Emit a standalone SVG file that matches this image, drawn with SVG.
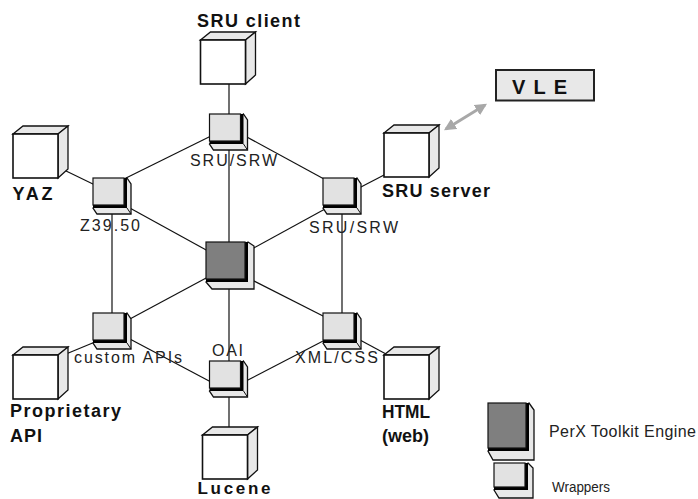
<svg xmlns="http://www.w3.org/2000/svg" xmlns:xlink="http://www.w3.org/1999/xlink" width="698" height="499" viewBox="0 0 698 499">
<style>
.face{fill:#e8e8e8;stroke:#111;stroke-width:1.3;stroke-linejoin:miter}
.front{fill:#fff;stroke:#111;stroke-width:1.6}
.wfront{fill:#e2e2e2;stroke:#111;stroke-width:1.2}
.efront{fill:#7f7f7f;stroke:#111;stroke-width:1.2}
.shadow{fill:#000}
.conn line{stroke:#111;stroke-width:1.2}
.big{font-family:"Liberation Sans",Arial,sans-serif;font-weight:bold;font-size:18px;fill:#111}
.lbl{font-family:"Liberation Sans",Arial,sans-serif;font-size:16px;fill:#222}
</style>
<defs>
<g id="box">
<polygon class="face" points="0,0 10,-8 55,-8 45,0"/>
<polygon class="face" points="45,0 55,-8 55,35 45,44"/>
<rect class="front" x="0" y="0" width="45" height="44"/>
</g>
<g id="wrap">
<polygon class="face" points="34,0 38,6 38,36 4,36 0,30"/>
<line x1="34" y1="30" x2="38" y2="36" stroke="#111" stroke-width="1"/>
<rect class="shadow" x="0" y="0" width="34" height="30"/>
<rect class="wfront" x="0" y="0" width="31" height="27"/>
</g>
<marker id="ah" viewBox="0 0 10 10" refX="8" refY="5" markerWidth="4" markerHeight="4" orient="auto-start-reverse" markerUnits="strokeWidth">
<path d="M0,0 L10,5 L0,10 z" fill="#a8a8a8"/>
</marker>
</defs>
<rect width="698" height="499" fill="#fff"/>
<g id="connectors" class="conn">
<line x1="229" y1="83" x2="229" y2="116"/>
<line x1="229" y1="143" x2="229" y2="244"/>
<line x1="211" y1="136" x2="124" y2="179"/>
<line x1="245" y1="136" x2="324" y2="179"/>
<line x1="64" y1="170" x2="95" y2="185"/>
<line x1="128" y1="207" x2="208" y2="251"/>
<line x1="112" y1="208" x2="112" y2="315"/>
<line x1="359" y1="188" x2="386" y2="174"/>
<line x1="325" y1="209" x2="252" y2="249"/>
<line x1="342" y1="208" x2="342" y2="315"/>
<line x1="208" y1="277" x2="128" y2="320"/>
<line x1="252" y1="280" x2="325" y2="317"/>
<line x1="229" y1="285" x2="229" y2="363"/>
<line x1="95" y1="342" x2="66" y2="354"/>
<line x1="128" y1="338" x2="211" y2="382"/>
<line x1="246" y1="381" x2="325" y2="340"/>
<line x1="360" y1="340" x2="386" y2="354"/>
<line x1="229" y1="392" x2="229" y2="437"/>
<line x1="446" y1="129" x2="485" y2="105" style="stroke:#a8a8a8;stroke-width:3" marker-start="url(#ah)" marker-end="url(#ah)"/>
</g>
<g id="sru-client"><use xlink:href="#box" x="200.5" y="40"/><text class="big" x="197" y="27" textLength="103" lengthAdjust="spacing">SRU client</text></g>
<g id="yaz"><use xlink:href="#box" x="13" y="134"/><text class="big" x="12.5" y="200" textLength="40" lengthAdjust="spacing">YAZ</text></g>
<g id="sru-server"><use xlink:href="#box" x="384" y="133"/><text class="big" x="382" y="197" textLength="108" lengthAdjust="spacing">SRU server</text></g>
<g id="proprietary-api"><use xlink:href="#box" x="13" y="355"/><text class="big" x="10" y="417" textLength="111" lengthAdjust="spacing">Proprietary</text><text class="big" x="10" y="442" textLength="32" lengthAdjust="spacing">API</text></g>
<g id="lucene"><use xlink:href="#box" x="202.5" y="435"/><text class="big" x="197.5" y="494" textLength="73" lengthAdjust="spacing" style="font-size:17px">Lucene</text></g>
<g id="html-web"><use xlink:href="#box" x="384" y="355"/><text class="big" x="382" y="418" textLength="48" lengthAdjust="spacingAndGlyphs">HTML</text><text class="big" x="382" y="442" textLength="47" lengthAdjust="spacing">(web)</text></g>
<g id="wrap-sru-top"><use xlink:href="#wrap" x="209.5" y="114"/><text class="lbl" x="190" y="166" textLength="87" lengthAdjust="spacing">SRU/SRW</text></g>
<g id="wrap-z3950"><use xlink:href="#wrap" x="93" y="178"/><text class="lbl" x="80" y="231" textLength="60" lengthAdjust="spacing">Z39.50</text></g>
<g id="wrap-sru-right"><use xlink:href="#wrap" x="323" y="178"/><text class="lbl" x="309" y="233" textLength="89" lengthAdjust="spacing">SRU/SRW</text></g>
<g id="wrap-custom"><use xlink:href="#wrap" x="93" y="313"/><text class="lbl" x="74" y="363" textLength="108" lengthAdjust="spacing">custom APIs</text></g>
<g id="wrap-xmlcss"><use xlink:href="#wrap" x="323" y="313"/><text class="lbl" x="295" y="363" textLength="83" lengthAdjust="spacing">XML/CSS</text></g>
<g id="wrap-oai"><use xlink:href="#wrap" x="209.5" y="361"/><text class="lbl" x="212" y="356" textLength="31" lengthAdjust="spacing">OAI</text></g>
<g id="engine">
<polygon class="face" points="42,0 48,4 48,47 6,47 0,40" transform="translate(206,242)"/>
<rect class="shadow" x="206" y="242" width="42" height="40"/>
<rect class="efront" x="206" y="242" width="39" height="37"/>
</g>
<g id="vle">
<rect x="496" y="70" width="98" height="30.5" fill="#e8e8e8" stroke="#222" stroke-width="2"/>
<text class="big" x="512" y="94" textLength="55" lengthAdjust="spacing" style="font-size:20px">VLE</text>
</g>
<g id="legend-engine">
<polygon class="face" points="529,403 534,410 534,460 493,460 488,451"/>
<rect class="shadow" x="488" y="403" width="41" height="48"/>
<rect class="efront" x="488" y="403" width="38" height="45"/>
<text class="lbl" x="549" y="437" textLength="147" lengthAdjust="spacing">PerX Toolkit Engine</text>
</g>
<g id="legend-wrapper">
<polygon class="face" points="528,463 533,468 533,498 499,498 494,490"/>
<rect class="shadow" x="494" y="463" width="34" height="27"/>
<rect class="wfront" x="494" y="463" width="31" height="24"/>
<text class="lbl" x="552" y="492" textLength="58" lengthAdjust="spacingAndGlyphs" style="font-size:14px">Wrappers</text>
</g>
</svg>
